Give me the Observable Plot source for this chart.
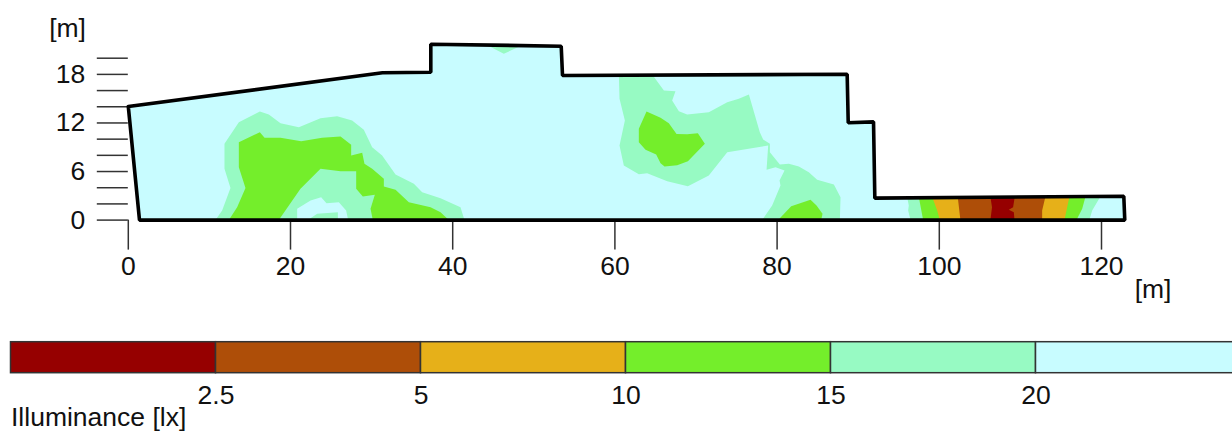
<!DOCTYPE html>
<html>
<head>
<meta charset="utf-8">
<style>
html,body{margin:0;padding:0;background:#fff;overflow:hidden}
svg{display:block}
</style>
<script src="https://cdn.jsdelivr.net/npm/d3@7"></script>
<script src="https://cdn.jsdelivr.net/npm/@observablehq/plot@0.6"></script>
</head>
<body>
<div id="main"></div>
<div id="legend"></div>
<script>
// Colours per class
const cDarkRed="#960000", cBrown="#ae4e08", cYellow="#e6b019", cGreen="#74ee2b", cAqua="#97fac3", cCyan="#c8fcff";

// Room outline [m]
const outline=[[0,14.03],[31.34,18.2],[37.3,18.27],[37.3,21.73],[53.38,21.48],[53.54,17.86],[88.64,18.02],[88.77,12.02],[91.89,12.14],[92.05,2.71],[122.75,2.95],[122.87,0],[1.38,0],[0,14.03]];

// Left blob
const leftAqua=[[10.75,0],[11.57,1.18],[12.6,3.98],[11.86,6.33],[11.86,9.42],[13.63,12.09],[16.22,13.41],[17.33,13.04],[18.77,11.97],[21.03,11.48],[23.7,12.59],[25.75,12.84],[27.6,12.3],[29.04,11.15],[30.07,9.01],[31.3,7.98],[32.95,5.63],[35.21,4.48],[36.24,3.45],[38.5,2.71],[40.96,1.6],[41.45,0]];
const leftGreen=[[12.4,0],[13.42,1.6],[14.45,3.98],[13.63,6.54],[13.63,9.62],[16.22,10.86],[16.8,10.16],[18.77,10.16],[21.32,9.75],[23.9,10.16],[26.17,10.33],[27.48,9.3],[27.48,7.98],[28.84,8.31],[29.12,6.95],[30.07,6.33],[31.51,5.1],[31.51,4.15],[32.95,3.74],[34.59,2.21],[37.27,1.6],[38.5,0.98],[39.52,0]];
const innerAqua=[[18.56,0],[21.23,3.86],[23.7,6.33],[26.17,6.04],[28.1,6.04],[28.1,3.86],[28.92,2.91],[30.4,3.12],[29.87,1.39],[30.15,0]];
const innerCyan=[[20.82,0],[20.82,1.39],[22.47,2.42],[23.78,2.83],[24.44,2.09],[25.96,2.21],[26.86,1.18],[27.11,0]];
const smallAqua=[[22.14,0],[23.29,0.77],[25.84,0.98],[25.84,0]];

// Middle and lower-right blobs
const midAqua=[[60.49,18],[64.6,18],[66.04,16.01],[67.47,15.93],[67.06,14.77],[67.89,13.45],[68.91,13.04],[71.58,13.33],[73.85,14.57],[75.28,14.98],[76.52,15.51],[77.87,10.86],[78.28,9.95],[79.11,9.42],[79.11,8.39],[80.34,6.87],[81.45,6.95],[82.68,6.62],[83.91,5.92],[84.94,4.97],[87,4.4],[87.82,2.83],[87.74,0],[78.16,0],[79.39,1.8],[80.42,4.27],[80.3,4.89],[80.92,6.13],[79.81,6.54],[78.7,6.21],[78.9,9.21],[73.85,8.39],[71.58,5.51],[69,4.19],[66.45,4.81],[63.98,5.8],[62.95,5.67],[61.1,6.74],[60.57,9.21],[61.23,12.3],[60.57,14.98]];
const midGreen=[[63.9,13.41],[65.63,12.63],[66.65,11.97],[67.6,10.65],[68.91,10.61],[70.23,10.74],[71.09,9.42],[69,7.28],[67.68,6.78],[66.12,6.62],[65.63,7.03],[65.09,8.1],[63.78,8.68],[62.95,9.63],[62.95,11.27]];
const lowGreen=[[80.13,0],[81.74,1.72],[84.12,2.5],[84.86,1.8],[85.6,0.77],[85.44,0]];
const topAqua=[[44.45,21.5],[46.3,20.54],[48.36,21.5]];

// Strip on the right
const stripAqua=[[96.04,2.83],[96.24,1.8],[96.16,1.19],[96.45,0],[118.5,0],[118.85,1.19],[119.87,2.9]];
const stripGreen=[[97.48,2.83],[98.01,0],[116.92,0],[117.62,1.4],[118.03,2.9]];
const stripYellow=[[99.13,2.83],[99.74,1.2],[100.06,0],[115.43,0],[116.05,2.9]];
const stripBrown=[[102.28,2.83],[102.6,0],[112.68,0],[112.68,1.2],[113.09,2.9]];
const stripRed=[[106.31,2.83],[106.5,1.6],[106.3,0],[109.27,0],[109.19,0.98],[108.57,1.27],[109.1,1.6],[109.31,2.9]];

const layers=[
  [outline,cCyan],[leftAqua,cAqua],[leftGreen,cGreen],[innerAqua,cAqua],[innerCyan,cCyan],[smallAqua,cAqua],
  [midAqua,cAqua],[midGreen,cGreen],[lowGreen,cGreen],[topAqua,cAqua],
  [stripAqua,cAqua],[stripGreen,cGreen],[stripYellow,cYellow],[stripBrown,cBrown],[stripRed,cDarkRed]
];

const xTicks=[0,20,40,60,80,100,120];
const yTicks=[0,2,4,6,8,10,12,14,16,18,20];
const yLabelled=[0,6,12,18];
const unitLabel="[m]";
const legendTitle="Illuminance [lx]";

const FONT='"Liberation Sans", Arial, sans-serif';
const axisColor="#333";

const H1=305;
const main=Plot.plot({
  width:1232,height:H1,
  marginLeft:127.8,marginRight:61,marginTop:30,marginBottom:85.4,
  style:{fontFamily:FONT,fontSize:"26.5px",background:"#fff",color:"#111",overflow:"visible"},
  x:{domain:[0,120],range:[127.8,1101]},
  y:{domain:[0,20],range:[219.6,57.7]},
  marks:[
    ...layers.map(([pts,c])=>Plot.line(pts,{x:d=>d[0],y:d=>d[1],fill:c,stroke:"none",curve:"linear"})),
    Plot.axisY({ticks:yTicks,tickSize:31,tickPadding:12,stroke:axisColor,strokeWidth:1.5,
      tickFormat:d=>yLabelled.includes(d)?String(d):"",label:null}),
    Plot.axisX({ticks:xTicks,tickSize:30,tickPadding:6,stroke:axisColor,strokeWidth:1.5,label:null}),
    Plot.line(outline,{x:d=>d[0],y:d=>d[1],stroke:"#000",strokeWidth:3.6,strokeLinejoin:"miter",curve:"linear"}),
    Plot.text([unitLabel],{frameAnchor:"top-left",textAnchor:"end",lineAnchor:"middle",dx:-42.3,dy:-2,fontSize:26.5}),
    Plot.text([unitLabel],{frameAnchor:"bottom-right",textAnchor:"end",lineAnchor:"middle",dy:69.4,fontSize:26.5})
  ]
});
document.getElementById("main").appendChild(main);

// Legend
const legendColors=[cDarkRed,cBrown,cYellow,cGreen,cAqua,cCyan];
const legendBreaks=["2.5","5","10","15","20"];
const legendIndex=d3.range(legendColors.length);
const legend=Plot.plot({
  width:1232,height:432-H1,
  marginLeft:10.5,marginRight:0,marginTop:36.7,marginBottom:59.3,
  style:{fontFamily:FONT,fontSize:"26.5px",background:"#fff",color:"#111"},
  x:{domain:[0,6],range:[10.5,1240.5]},
  marks:[
    Plot.rectX(legendIndex,{x1:i=>i,x2:i=>i+1,fill:i=>legendColors[i],stroke:"#333",strokeWidth:1.5}),
    Plot.axisX({ticks:[1,2,3,4,5],tickSize:0,tickPadding:12,stroke:"none",
      tickFormat:i=>legendBreaks[i-1],label:null}),
    Plot.text([legendTitle],{frameAnchor:"bottom-left",textAnchor:"start",lineAnchor:"middle",dx:0,dy:44.5,fontSize:26.5})
  ]
});
document.getElementById("legend").appendChild(legend);
</script>
</body>
</html>
